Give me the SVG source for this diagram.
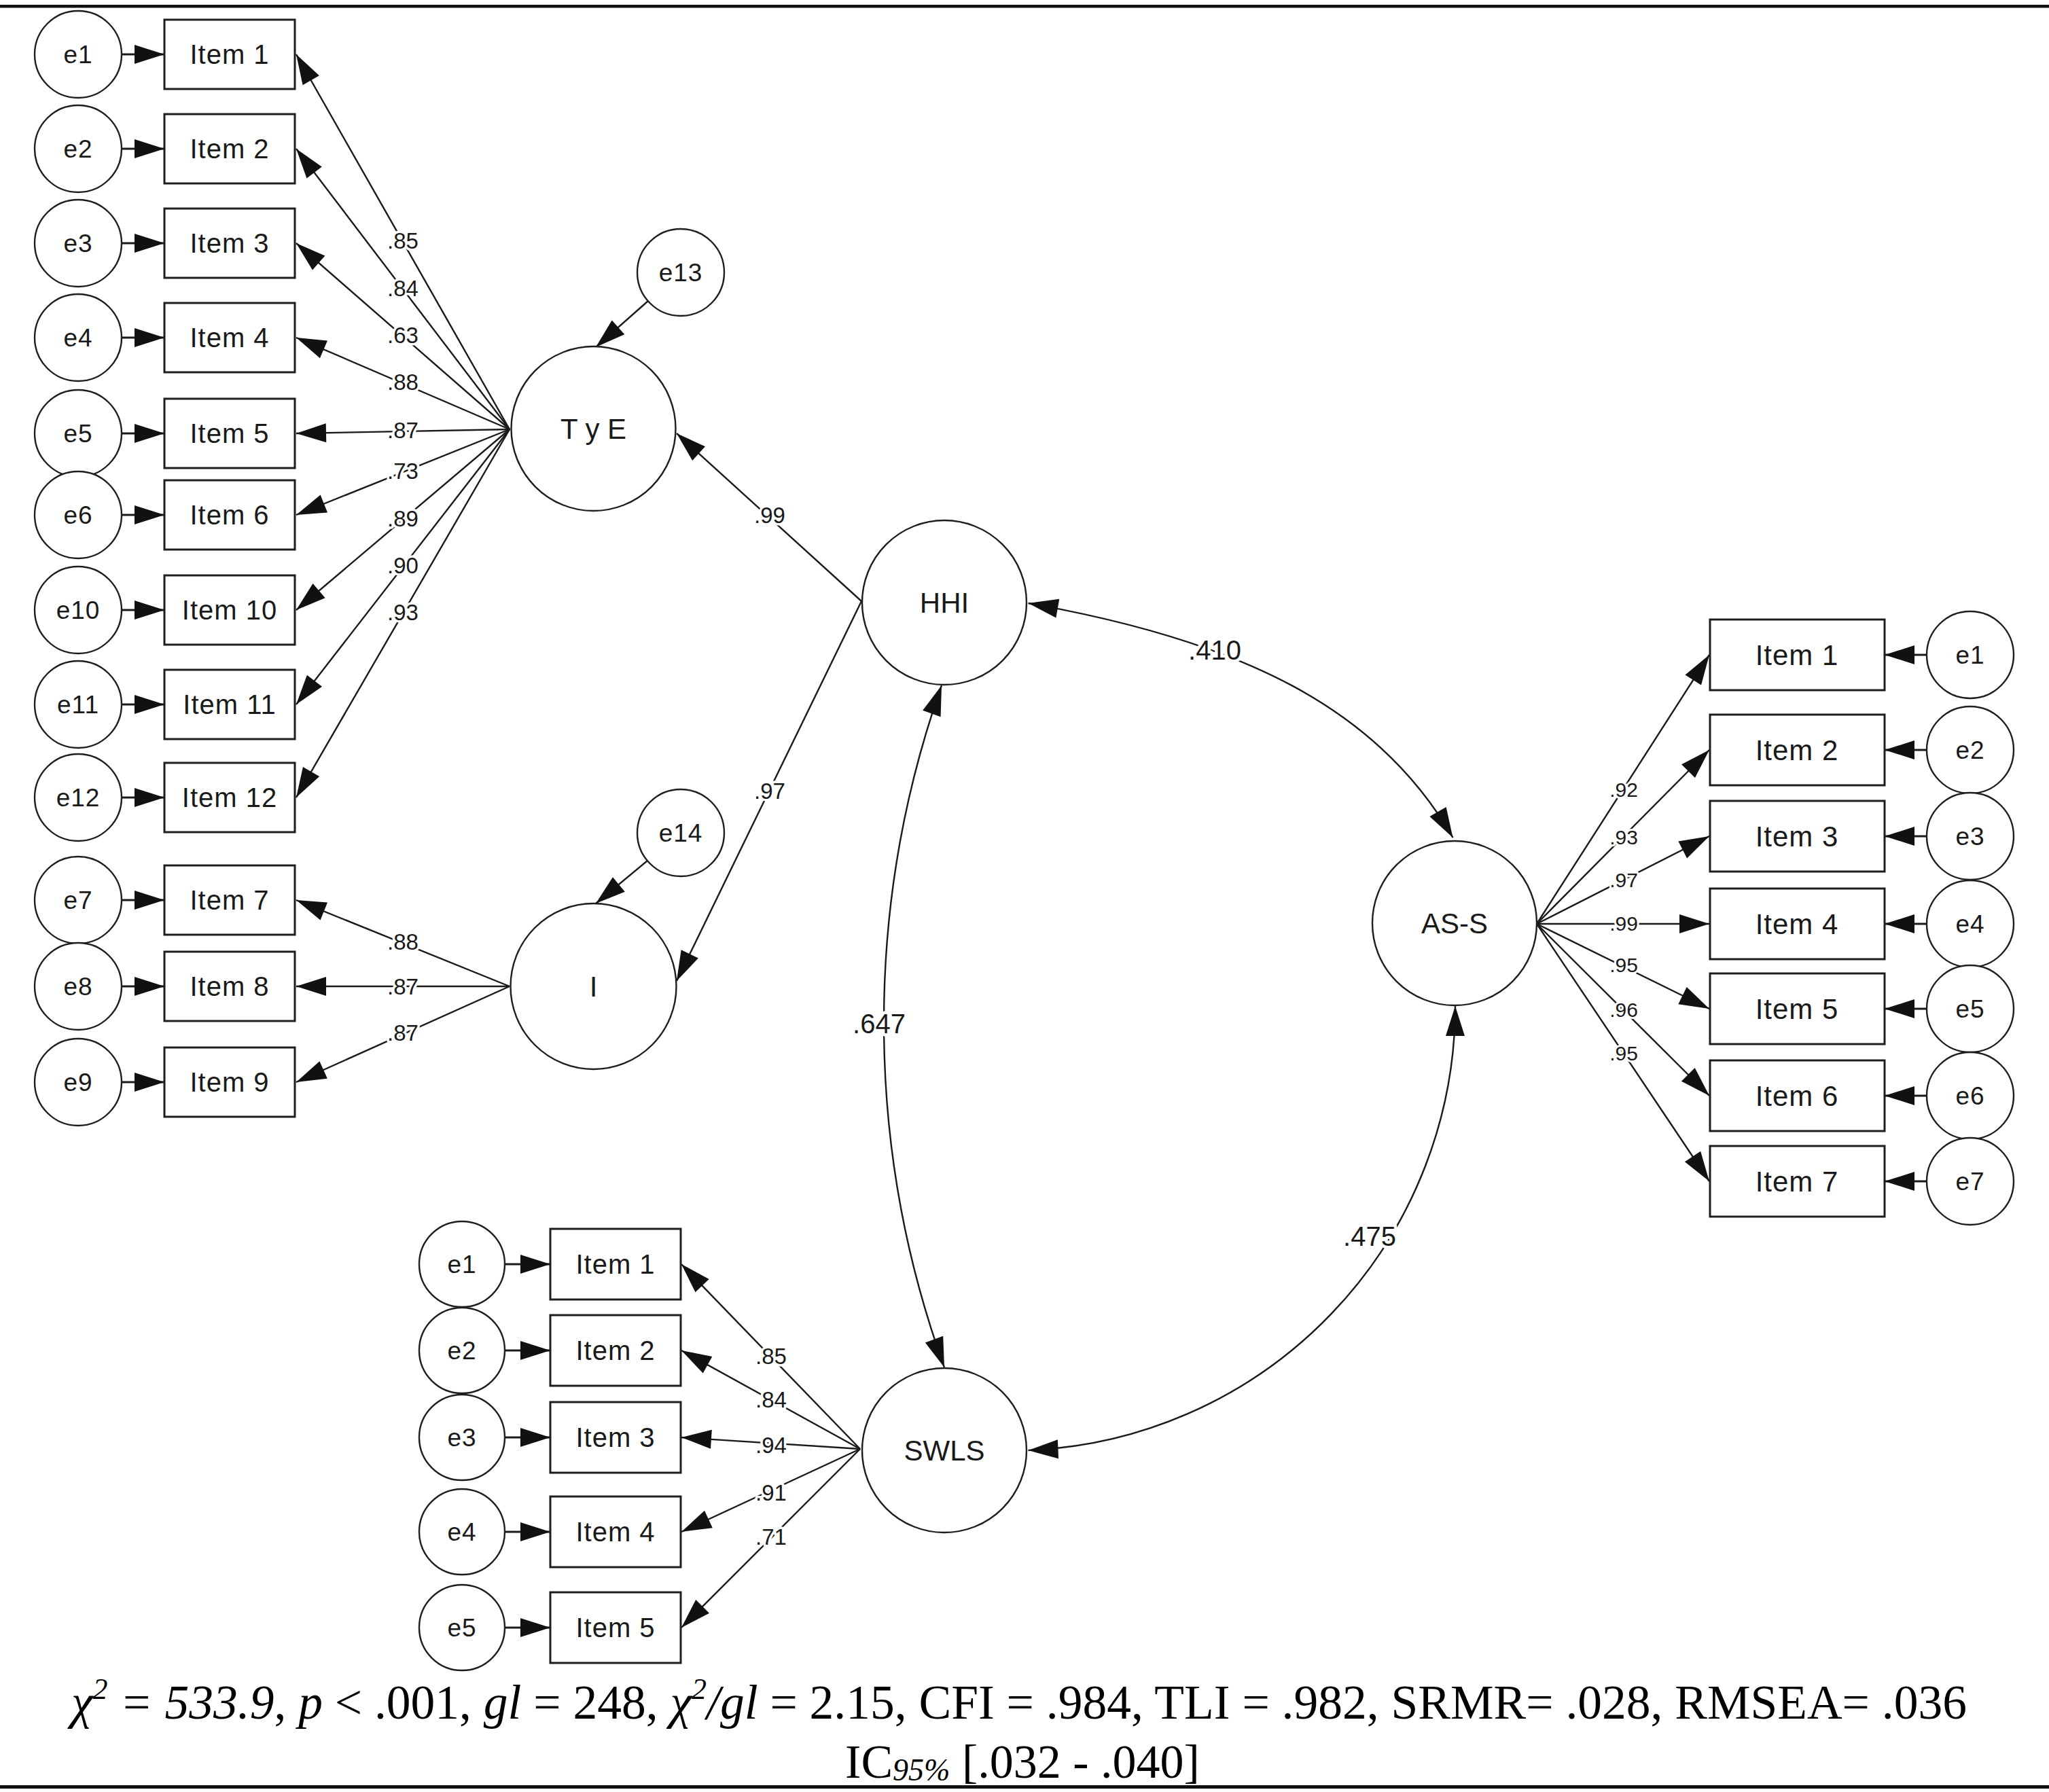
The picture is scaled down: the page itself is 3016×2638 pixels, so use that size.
<svg xmlns="http://www.w3.org/2000/svg" width="3016" height="2638" viewBox="0 0 3016 2638">
<defs>
<style>
.box{fill:#fff;stroke:#1e1e1e;stroke-width:3}
.circ{fill:#fff;stroke:#1e1e1e;stroke-width:2.4}
.t{font-family:"Liberation Sans",Arial,sans-serif;fill:#1a1a1a;text-anchor:middle}
.item{font-size:40px;letter-spacing:1px}
.itemr{font-size:42px;letter-spacing:1px}
.err{font-size:37px;letter-spacing:1px}
.lat{font-size:42px}
.ld{font-size:33px;paint-order:stroke;stroke:#fff;stroke-width:7px;stroke-linejoin:round}
.ldr{font-size:30px;paint-order:stroke;stroke:#fff;stroke-width:6px;stroke-linejoin:round}
.cor{font-size:40px;paint-order:stroke;stroke:#fff;stroke-width:9px;stroke-linejoin:round}
.c{fill:none;stroke:#1a1a1a;stroke-width:2.4}
.ce{stroke-width:3.2}
.a{marker-end:url(#ah)}
.d{marker-start:url(#ahs);marker-end:url(#ah)}
.fit{font-family:"Liberation Serif","Times New Roman",serif;fill:#000;text-anchor:middle}
.l1{font-size:71.5px}
.l2{font-size:70px}
.i{font-style:italic}
</style>
<marker id="ah" markerUnits="userSpaceOnUse" markerWidth="44" markerHeight="28" refX="44" refY="14" orient="auto" overflow="visible"><path d="M0,0 L44,14 L0,28 Z" fill="#111"/></marker>
<marker id="ahs" markerUnits="userSpaceOnUse" markerWidth="44" markerHeight="28" refX="44" refY="14" orient="auto-start-reverse" overflow="visible"><path d="M0,0 L44,14 L0,28 Z" fill="#111"/></marker>
</defs>
<rect x="0" y="0" width="3016" height="2638" fill="#fff"/>
<rect x="0" y="7" width="3016" height="4.5" fill="#111"/>
<rect x="0" y="2628" width="3016" height="5" fill="#111"/>

<g id="connectors">
<!-- TyE loadings -->
<line class="c a" x1="750" y1="632" x2="436" y2="80"/>
<line class="c a" x1="750" y1="632" x2="436" y2="219"/>
<line class="c a" x1="750" y1="632" x2="436" y2="358"/>
<line class="c a" x1="750" y1="632" x2="436" y2="497"/>
<line class="c a" x1="750" y1="632" x2="436" y2="638"/>
<line class="c a" x1="750" y1="632" x2="436" y2="758"/>
<line class="c a" x1="750" y1="632" x2="436" y2="898"/>
<line class="c a" x1="750" y1="632" x2="436" y2="1037"/>
<line class="c a" x1="750" y1="632" x2="436" y2="1174"/>
<!-- I loadings -->
<line class="c a" x1="750" y1="1452" x2="436" y2="1325"/>
<line class="c a" x1="750" y1="1452" x2="436" y2="1452"/>
<line class="c a" x1="750" y1="1452" x2="436" y2="1593"/>
<!-- HHI paths -->
<line class="c a" x1="1268" y1="885" x2="996" y2="638"/>
<line class="c a" x1="1268" y1="885" x2="996" y2="1444"/>
<!-- AS-S loadings -->
<line class="c a" x1="2262" y1="1360" x2="2516" y2="964"/>
<line class="c a" x1="2262" y1="1360" x2="2516" y2="1104"/>
<line class="c a" x1="2262" y1="1360" x2="2516" y2="1231"/>
<line class="c a" x1="2262" y1="1360" x2="2516" y2="1360"/>
<line class="c a" x1="2262" y1="1360" x2="2516" y2="1485"/>
<line class="c a" x1="2262" y1="1360" x2="2516" y2="1613"/>
<line class="c a" x1="2262" y1="1360" x2="2516" y2="1739"/>
<!-- SWLS loadings -->
<line class="c a" x1="1266" y1="2133" x2="1003" y2="1861"/>
<line class="c a" x1="1266" y1="2133" x2="1003" y2="1988"/>
<line class="c a" x1="1266" y1="2133" x2="1003" y2="2116"/>
<line class="c a" x1="1266" y1="2133" x2="1003" y2="2255"/>
<line class="c a" x1="1266" y1="2133" x2="1003" y2="2396"/>
<!-- error arrows left -->
<line class="c ce a" x1="179" y1="80" x2="242" y2="80"/>
<line class="c ce a" x1="179" y1="219" x2="242" y2="219"/>
<line class="c ce a" x1="179" y1="358" x2="242" y2="358"/>
<line class="c ce a" x1="179" y1="497" x2="242" y2="497"/>
<line class="c ce a" x1="179" y1="638" x2="242" y2="638"/>
<line class="c ce a" x1="179" y1="758" x2="242" y2="758"/>
<line class="c ce a" x1="179" y1="898" x2="242" y2="898"/>
<line class="c ce a" x1="179" y1="1037" x2="242" y2="1037"/>
<line class="c ce a" x1="179" y1="1174" x2="242" y2="1174"/>
<line class="c ce a" x1="179" y1="1325" x2="242" y2="1325"/>
<line class="c ce a" x1="179" y1="1452" x2="242" y2="1452"/>
<line class="c ce a" x1="179" y1="1593" x2="242" y2="1593"/>
<!-- disturbances -->
<line class="c a" x1="954" y1="443" x2="877" y2="511"/>
<line class="c a" x1="953" y1="1267" x2="877" y2="1330"/>
<!-- error arrows right -->
<line class="c ce a" x1="2836" y1="964" x2="2774" y2="964"/>
<line class="c ce a" x1="2836" y1="1104" x2="2774" y2="1104"/>
<line class="c ce a" x1="2836" y1="1231" x2="2774" y2="1231"/>
<line class="c ce a" x1="2836" y1="1360" x2="2774" y2="1360"/>
<line class="c ce a" x1="2836" y1="1485" x2="2774" y2="1485"/>
<line class="c ce a" x1="2836" y1="1613" x2="2774" y2="1613"/>
<line class="c ce a" x1="2836" y1="1739" x2="2774" y2="1739"/>
<!-- error arrows SWLS -->
<line class="c ce a" x1="743" y1="1861" x2="810" y2="1861"/>
<line class="c ce a" x1="743" y1="1988" x2="810" y2="1988"/>
<line class="c ce a" x1="743" y1="2116" x2="810" y2="2116"/>
<line class="c ce a" x1="743" y1="2255" x2="810" y2="2255"/>
<line class="c ce a" x1="743" y1="2396" x2="810" y2="2396"/>
<!-- covariances -->
<path class="c d" d="M1513.5,888 C1828.6,943.6 2028.5,1042.5 2138.5,1233"/>
<path class="c d" d="M1386,1009 A1492,1492 0 0 0 1390,2013"/>
<path class="c d" d="M1513.5,2135 A655,655 0 0 0 2142,1481"/>

<!-- loading labels -->
<g class="t ld">
<text x="593" y="366">.85</text>
<text x="593" y="436">.84</text>
<text x="593" y="505">.63</text>
<text x="593" y="574">.88</text>
<text x="593" y="645">.87</text>
<text x="593" y="705">.73</text>
<text x="593" y="775">.89</text>
<text x="593" y="844">.90</text>
<text x="593" y="913">.93</text>
<text x="593" y="1398">.88</text>
<text x="593" y="1464">.87</text>
<text x="593" y="1532">.87</text>
<text x="1133" y="770">.99</text>
<text x="1133" y="1176">.97</text>
<text x="1135" y="2008">.85</text>
<text x="1135" y="2072">.84</text>
<text x="1135" y="2139">.94</text>
<text x="1135" y="2209">.91</text>
<text x="1135" y="2274">.71</text>
</g>
<g class="t ldr">
<text x="2390" y="1173">.92</text>
<text x="2390" y="1243">.93</text>
<text x="2390" y="1306">.97</text>
<text x="2390" y="1370">.99</text>
<text x="2390" y="1431">.95</text>
<text x="2390" y="1497">.96</text>
<text x="2390" y="1561">.95</text>
</g>
<g class="t cor">
<text x="1788" y="971">.410</text>
<text x="1294" y="1521">.647</text>
<text x="2016" y="1834">.475</text>
</g>
</g>

<!-- TyE indicators -->
<g id="tye_item1"><rect class="box" x="242" y="29" width="192" height="102"/><text class="t item" x="338" y="94">Item 1</text></g>
<g id="tye_item2"><rect class="box" x="242" y="168" width="192" height="102"/><text class="t item" x="338" y="233">Item 2</text></g>
<g id="tye_item3"><rect class="box" x="242" y="307" width="192" height="102"/><text class="t item" x="338" y="372">Item 3</text></g>
<g id="tye_item4"><rect class="box" x="242" y="446" width="192" height="102"/><text class="t item" x="338" y="511">Item 4</text></g>
<g id="tye_item5"><rect class="box" x="242" y="587" width="192" height="102"/><text class="t item" x="338" y="652">Item 5</text></g>
<g id="tye_item6"><rect class="box" x="242" y="707" width="192" height="102"/><text class="t item" x="338" y="772">Item 6</text></g>
<g id="tye_item10"><rect class="box" x="242" y="847" width="192" height="102"/><text class="t item" x="338" y="912">Item 10</text></g>
<g id="tye_item11"><rect class="box" x="242" y="986" width="192" height="102"/><text class="t item" x="338" y="1051">Item 11</text></g>
<g id="tye_item12"><rect class="box" x="242" y="1123" width="192" height="102"/><text class="t item" x="338" y="1188">Item 12</text></g>
<g id="i_item7"><rect class="box" x="242" y="1274" width="192" height="102"/><text class="t item" x="338" y="1339">Item 7</text></g>
<g id="i_item8"><rect class="box" x="242" y="1401" width="192" height="102"/><text class="t item" x="338" y="1466">Item 8</text></g>
<g id="i_item9"><rect class="box" x="242" y="1542" width="192" height="102"/><text class="t item" x="338" y="1607">Item 9</text></g>

<!-- left errors -->
<g id="l_e1"><circle class="circ" cx="115" cy="80" r="64"/><text class="t err" x="115" y="93">e1</text></g>
<g id="l_e2"><circle class="circ" cx="115" cy="219" r="64"/><text class="t err" x="115" y="232">e2</text></g>
<g id="l_e3"><circle class="circ" cx="115" cy="358" r="64"/><text class="t err" x="115" y="371">e3</text></g>
<g id="l_e4"><circle class="circ" cx="115" cy="497" r="64"/><text class="t err" x="115" y="510">e4</text></g>
<g id="l_e5"><circle class="circ" cx="115" cy="638" r="64"/><text class="t err" x="115" y="651">e5</text></g>
<g id="l_e6"><circle class="circ" cx="115" cy="758" r="64"/><text class="t err" x="115" y="771">e6</text></g>
<g id="l_e10"><circle class="circ" cx="115" cy="898" r="64"/><text class="t err" x="115" y="911">e10</text></g>
<g id="l_e11"><circle class="circ" cx="115" cy="1037" r="64"/><text class="t err" x="115" y="1050">e11</text></g>
<g id="l_e12"><circle class="circ" cx="115" cy="1174" r="64"/><text class="t err" x="115" y="1187">e12</text></g>
<g id="l_e7"><circle class="circ" cx="115" cy="1325" r="64"/><text class="t err" x="115" y="1338">e7</text></g>
<g id="l_e8"><circle class="circ" cx="115" cy="1452" r="64"/><text class="t err" x="115" y="1465">e8</text></g>
<g id="l_e9"><circle class="circ" cx="115" cy="1593" r="64"/><text class="t err" x="115" y="1606">e9</text></g>

<!-- latents -->
<g id="tye"><circle class="circ" cx="873.5" cy="631" r="121"/><text class="t lat" x="873.5" y="646">T y E</text></g>
<g id="i"><circle class="circ" cx="873.5" cy="1452" r="122"/><text class="t lat" x="873.5" y="1467">I</text></g>
<g id="e13"><circle class="circ" cx="1002" cy="401" r="64"/><text class="t err" x="1002" y="414">e13</text></g>
<g id="e14"><circle class="circ" cx="1002" cy="1226" r="64"/><text class="t err" x="1002" y="1239">e14</text></g>
<g id="hhi"><circle class="circ" cx="1390" cy="887" r="121"/><text class="t lat" x="1390" y="902">HHI</text></g>
<g id="ass"><circle class="circ" cx="2141" cy="1359" r="121"/><text class="t lat" x="2141" y="1374">AS-S</text></g>
<g id="swls"><circle class="circ" cx="1390" cy="2135" r="121"/><text class="t lat" x="1390" y="2150">SWLS</text></g>

<!-- AS-S indicators -->
<g id="ass_item1"><rect class="box" x="2517" y="912" width="257" height="104"/><text class="t itemr" x="2645" y="979">Item 1</text></g>
<g id="ass_item2"><rect class="box" x="2517" y="1052" width="257" height="104"/><text class="t itemr" x="2645" y="1119">Item 2</text></g>
<g id="ass_item3"><rect class="box" x="2517" y="1179" width="257" height="104"/><text class="t itemr" x="2645" y="1246">Item 3</text></g>
<g id="ass_item4"><rect class="box" x="2517" y="1308" width="257" height="104"/><text class="t itemr" x="2645" y="1375">Item 4</text></g>
<g id="ass_item5"><rect class="box" x="2517" y="1433" width="257" height="104"/><text class="t itemr" x="2645" y="1500">Item 5</text></g>
<g id="ass_item6"><rect class="box" x="2517" y="1561" width="257" height="104"/><text class="t itemr" x="2645" y="1628">Item 6</text></g>
<g id="ass_item7"><rect class="box" x="2517" y="1687" width="257" height="104"/><text class="t itemr" x="2645" y="1754">Item 7</text></g>

<g id="r_e1"><circle class="circ" cx="2900" cy="964" r="64"/><text class="t err" x="2900" y="977">e1</text></g>
<g id="r_e2"><circle class="circ" cx="2900" cy="1104" r="64"/><text class="t err" x="2900" y="1117">e2</text></g>
<g id="r_e3"><circle class="circ" cx="2900" cy="1231" r="64"/><text class="t err" x="2900" y="1244">e3</text></g>
<g id="r_e4"><circle class="circ" cx="2900" cy="1360" r="64"/><text class="t err" x="2900" y="1373">e4</text></g>
<g id="r_e5"><circle class="circ" cx="2900" cy="1485" r="64"/><text class="t err" x="2900" y="1498">e5</text></g>
<g id="r_e6"><circle class="circ" cx="2900" cy="1613" r="64"/><text class="t err" x="2900" y="1626">e6</text></g>
<g id="r_e7"><circle class="circ" cx="2900" cy="1739" r="64"/><text class="t err" x="2900" y="1752">e7</text></g>

<!-- SWLS indicators -->
<g id="swls_item1"><rect class="box" x="810" y="1809" width="192" height="104"/><text class="t item" x="906" y="1875">Item 1</text></g>
<g id="swls_item2"><rect class="box" x="810" y="1936" width="192" height="104"/><text class="t item" x="906" y="2002">Item 2</text></g>
<g id="swls_item3"><rect class="box" x="810" y="2064" width="192" height="104"/><text class="t item" x="906" y="2130">Item 3</text></g>
<g id="swls_item4"><rect class="box" x="810" y="2203" width="192" height="104"/><text class="t item" x="906" y="2269">Item 4</text></g>
<g id="swls_item5"><rect class="box" x="810" y="2344" width="192" height="104"/><text class="t item" x="906" y="2410">Item 5</text></g>

<g id="s_e1"><circle class="circ" cx="680" cy="1861" r="63"/><text class="t err" x="680" y="1874">e1</text></g>
<g id="s_e2"><circle class="circ" cx="680" cy="1988" r="63"/><text class="t err" x="680" y="2001">e2</text></g>
<g id="s_e3"><circle class="circ" cx="680" cy="2116" r="63"/><text class="t err" x="680" y="2129">e3</text></g>
<g id="s_e4"><circle class="circ" cx="680" cy="2255" r="63"/><text class="t err" x="680" y="2268">e4</text></g>
<g id="s_e5"><circle class="circ" cx="680" cy="2396" r="63"/><text class="t err" x="680" y="2409">e5</text></g>

<!-- fit indices -->
<g id="fit">
<text class="fit l1" x="1500" y="2530"><tspan class="i">χ</tspan><tspan class="i" font-size="44" dy="-29">2</tspan><tspan class="i" dy="29"> = 533.9</tspan>, <tspan class="i">p</tspan> &lt; .001, <tspan class="i">gl</tspan> = 248, <tspan class="i">χ</tspan><tspan class="i" font-size="44" dy="-29">2</tspan><tspan class="i" dy="29">/gl</tspan> = 2.15, CFI = .984, TLI = .982, SRMR= .028, RMSEA= .036</text>
<text class="fit l2" x="1505" y="2617">IC<tspan class="i" font-size="46" dy="4">95%</tspan><tspan dy="-4"> [.032 - .040]</tspan></text>
</g>
</svg>
